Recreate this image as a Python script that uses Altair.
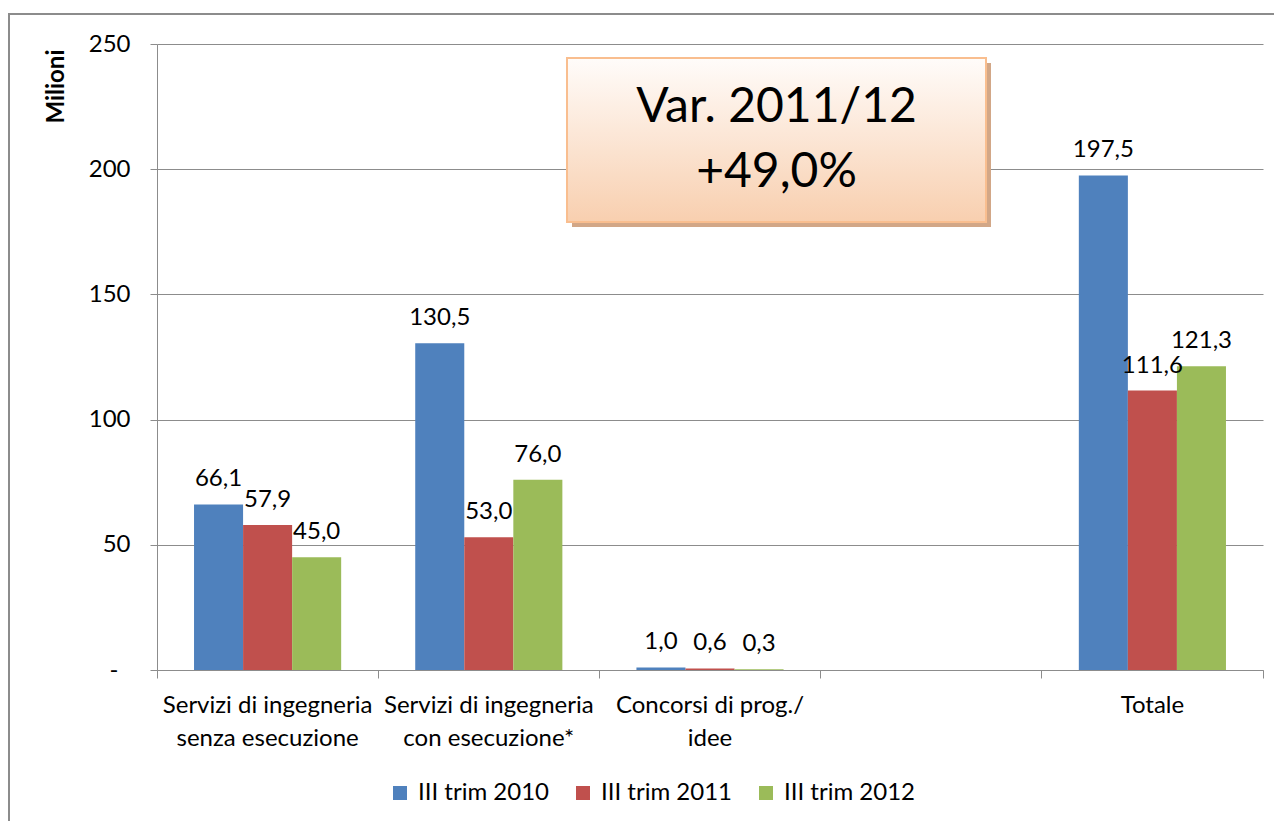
import altair as alt
import pandas as pd

# ---- data ----
categories = [
    "Servizi di ingegneria|senza esecuzione",
    "Servizi di ingegneria|con esecuzione*",
    "Concorsi di prog./|idee",
    " ",
    "Totale",
]
data_categories = [categories[0], categories[1], categories[2], categories[4]]
series = ["III trim 2010", "III trim 2011", "III trim 2012"]
v2010 = [66.1, 130.5, 1.0, 197.5]
v2011 = [57.9, 53.0, 0.6, 111.6]
v2012 = [45.0, 76.0, 0.3, 121.3]
colors = ["#4F81BD", "#C0504D", "#9BBB59"]
y_ticks = [0, 50, 100, 150, 200, 250]
y_title = "Milioni"
note_lines = ["Var. 2011/12", "+49,0%"]

rows = []
for s, vals in zip(series, [v2010, v2011, v2012]):
    for c, v in zip(data_categories, vals):
        rows.append({"cat": c, "series": s, "value": v})
df = pd.DataFrame(rows)

W, H = 1106, 626
FONT = "Lato"
GRID = "#8c8c8c"

x_enc = alt.X(
    "cat:N",
    sort=categories,
    scale=alt.Scale(domain=categories, paddingInner=0, paddingOuter=0),
    axis=alt.Axis(
        title=None,
        bandPosition=1,
        tickExtra=True,
        tickSize=8,
        tickColor=GRID,
        domainColor=GRID,
        labelExpr="split(datum.label, '|')",
        labelLineHeight=33,
        labelPadding=15,
        labelFontSize=24,
        labelAngle=0,
        labelLimit=0,
        labelOverlap=False,
        labelBound=False,
        labelColor="#000000",
        grid=False,
    ),
)
xoff_enc = alt.XOffset(
    "series:N",
    sort=series,
    scale=alt.Scale(domain=series, paddingInner=0, paddingOuter=0.755),
)
y_enc = alt.Y(
    "value:Q",
    scale=alt.Scale(domain=[0, 250], nice=False),
    axis=alt.Axis(
        title=y_title,
        titleFontSize=24,
        titleFontWeight="bold",
        titleAngle=-90,
        titleAlign="right",
        titleBaseline="bottom",
        titleX=-89,
        titleY=5,
        values=y_ticks,
        labelExpr="datum.value == 0 ? '-' : datum.label",
        labelFontSize=24,
        labelPadding={"condition": {"test": "datum.value == 0", "value": 32}, "value": 20},
        labelColor="#000000",
        tickSize=7,
        tickColor=GRID,
        domainColor=GRID,
        gridColor=GRID,
        grid=True,
    ),
)

base = alt.Chart(df).encode(x=x_enc, xOffset=xoff_enc, y=y_enc)

bars = base.mark_bar().encode(
    color=alt.Color(
        "series:N",
        sort=series,
        scale=alt.Scale(domain=series, range=colors),
        legend=alt.Legend(
            title=None,
            orient="none",
            legendX=231,
            legendY=737,
            direction="horizontal",
            symbolType="square",
            symbolSize=196,
            symbolStrokeWidth=0,
            labelFontSize=24,
            labelColor="#000000",
            labelOffset=6,
            columnPadding=22,
            labelLimit=0,
        ),
    )
)

labels = base.transform_calculate(
    label="replace(format(datum.value, '.1f'), '.', ',')"
).mark_text(fontSize=24, baseline="alphabetic", dy=-18, color="#000000").encode(
    text="label:N"
)

note_df = pd.DataFrame({"t": [0]})
note_base = alt.Chart(note_df)
shadow = note_base.mark_rect(fill="#D2A787").encode(
    x=alt.value(415), x2=alt.value(834), y=alt.value(19), y2=alt.value(183)
)
box = note_base.mark_rect(
    fill=alt.Gradient(
        gradient="linear",
        stops=[
            alt.GradientStop(offset=0, color="#FFFCFA"),
            alt.GradientStop(offset=1, color="#F8CFAF"),
        ],
        x1=0, x2=0, y1=0, y2=1,
    ),
    stroke="#F9BE8F",
    strokeWidth=2,
).encode(x=alt.value(410), x2=alt.value(829), y=alt.value(14), y2=alt.value(178))
note_text = note_base.mark_text(
    text=note_lines, fontSize=48, lineHeight=65, baseline="alphabetic",
    align="center", color="#000000",
).encode(x=alt.value(619.5), y=alt.value(78))

frame = note_base.mark_rect(fillOpacity=0, stroke="#8c8c8c", strokeWidth=2).encode(
    x=alt.value(-148), x2=alt.value(W + 60), y=alt.value(-30), y2=alt.value(H + 250)
)

chart = (
    alt.layer(bars, labels, shadow, box, note_text, frame)
    .properties(
        width=W,
        height=H,
        padding={"left": 149, "top": 36, "right": 11, "bottom": 151},
        autosize=alt.AutoSizeParams(type="none"),
    )
    .configure(font=FONT)
    .configure_view(stroke=None)
)

chart.save("out.html", embed_options={"renderer": "svg", "actions": False})
